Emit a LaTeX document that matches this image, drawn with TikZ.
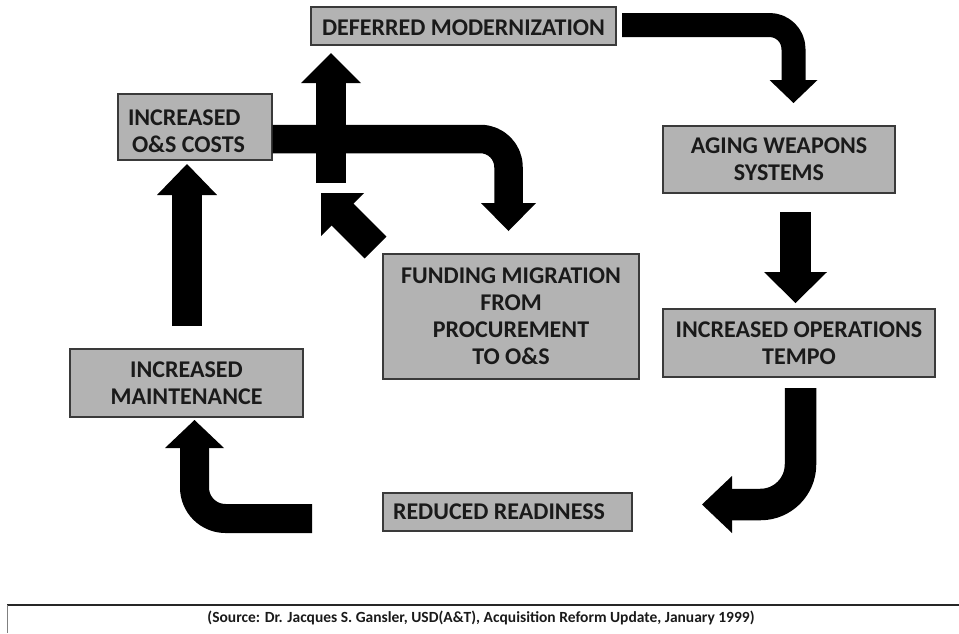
\documentclass[tikz,border=0pt]{standalone}
\usepackage{fontspec}
\setmainfont{Carlito}
\definecolor{boxgray}{HTML}{B3B3B3}
\definecolor{boxline}{HTML}{3A3A3A}
\definecolor{txt}{HTML}{1A1A1A}
\tikzset{
  box/.style={draw=boxline, fill=boxgray, line width=1.3pt, inner sep=0pt,
    font=\fontsize{24}{27}\selectfont\bfseries, align=center, text=txt},
  shaft/.style={draw=black, line cap=butt, line join=round},
  head/.style={fill=black},
}
\begin{document}
\begin{tikzpicture}[x=1pt, y=-1pt]
\useasboundingbox (0,0) rectangle (959,633);

% boxes
\node[box, minimum width=305pt, minimum height=38pt] (dm) at (463.5,26) {\rule{0pt}{19pt}DEFERRED MODERNIZATION};
\node[box, minimum width=154pt, minimum height=66pt, text width=134pt, align=left] (os) at (195,127) {\spaceskip=0pt\xspaceskip=0pt\rule{0pt}{24pt}INCREASED\\\hspace*{4pt}O\&S COSTS};
\node[box, minimum width=232pt, minimum height=67pt] (aw) at (779,159.5) {AGING WEAPONS\\SYSTEMS};
\node[box, minimum width=256pt, minimum height=125pt] (fm) at (511,316.5) {FUNDING MIGRATION\\FROM\\PROCUREMENT\\TO O\&S};
\node[box, minimum width=272pt, minimum height=68pt] (tp) at (799,343) {INCREASED OPERATIONS\\TEMPO};
\node[box, minimum width=233pt, minimum height=68pt] (mt) at (186.5,383) {INCREASED\\MAINTENANCE};
\node[box, minimum width=249pt, minimum height=38pt, text width=229pt, align=left] (rr) at (507.5,512) {\spaceskip=0pt\xspaceskip=0pt REDUCED READINESS};

% arrow coordinates
\coordinate (a0) at (622,25);   \coordinate (a1) at (793.5,25);  \coordinate (a2) at (793.5,80.5);
\coordinate (b0) at (795.5,212); \coordinate (b1) at (795.5,272.5);
\coordinate (c0) at (800.5,388); \coordinate (c1) at (800.5,504.5); \coordinate (c2) at (731.5,504.5);
\coordinate (d0) at (312,518.5); \coordinate (d1) at (194.5,518.5); \coordinate (d2) at (194.5,447.5);
\coordinate (e0) at (187,326);   \coordinate (e1) at (187,194.5);
\coordinate (f1) at (508.5,139); \coordinate (f2) at (508.5,203.5);
\coordinate (g0) at (331,183);   \coordinate (g1) at (331,82.5);
\coordinate (h0) at (375.5,247.5); \coordinate (h1) at (342,214);

% A: deferred -> aging
\draw[shaft, line width=24pt, rounded corners=24pt] (a0) -- (a1) -- (a2);
\fill[head] (769.5,80) -- (817.5,80) -- (793.5,103) -- cycle;
% B: aging -> tempo
\draw[shaft, line width=31pt] (b0) -- (b1);
\fill[head] (764,272) -- (827,272) -- (795.5,303) -- cycle;
% C: tempo -> reduced readiness
\draw[shaft, line width=31.5pt, rounded corners=40pt] (c0) -- (c1) -- (c2);
\fill[head] (732,476) -- (732,533) -- (702,504.5) -- cycle;
% D: reduced readiness -> maintenance
\draw[shaft, line width=29pt, rounded corners=31pt] (d0) -- (d1) -- (d2);
\fill[head] (165,448) -- (224,448) -- (194.5,420) -- cycle;
% E: maintenance -> O&S costs
\draw[shaft, line width=30pt] (e0) -- (e1);
\fill[head] (157,195) -- (217,195) -- (187,164) -- cycle;
% F: O&S costs -> funding migration
\draw[shaft, line width=28.5pt, rounded corners=28pt] (os.east |- f1) -- (f1) -- (f2);
\fill[head] (481,203) -- (536,203) -- (508.5,231) -- cycle;
% G: up to deferred modernization
\draw[shaft, line width=30pt] (g0) -- (g1);
\fill[head] (301,83) -- (361,83) -- (331,53) -- cycle;
% H: funding migration -> back up
\draw[shaft, line width=31pt] (h0) -- (h1);
\fill[head] (321,193) -- (364,193) -- (321,236) -- cycle;

% source frame
\draw[line width=1.6pt, black!85] (7,605) -- (959,605);
\draw[line width=1pt, black!50] (7,605) -- (7,633);
\node[font=\fontsize{15.5}{17}\selectfont\bfseries, text=txt] (src) at (481,618)
  {(Source: Dr. Jacques S. Gansler, USD(A\&T), Acquisition Reform Update, January 1999)};
\end{tikzpicture}
\end{document}
